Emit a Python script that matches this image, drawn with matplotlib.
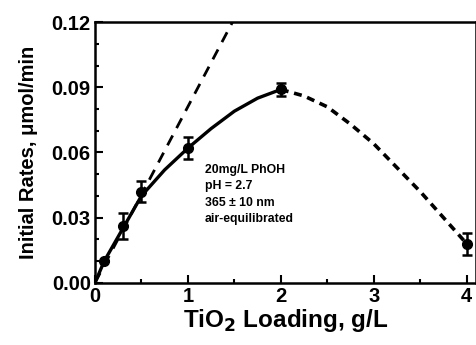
import matplotlib
matplotlib.use('Agg')
from matplotlib import pyplot as plt
from matplotlib.ticker import MultipleLocator, FormatStrFormatter

# measured points
loading = [0.1, 0.3, 0.5, 1.0, 2.0, 4.0]
rate = [0.010, 0.026, 0.042, 0.062, 0.089, 0.018]
rate_err = [0.0, 0.006, 0.005, 0.005, 0.003, 0.005]

# solid fitted curve
fit_x = [0.0, 0.1, 0.3, 0.5, 0.75, 1.0, 1.25, 1.5, 1.75, 2.0]
fit_y = [0.000, 0.010, 0.025, 0.040, 0.052, 0.062, 0.071, 0.079, 0.085, 0.089]

# dashed continuation past the maximum
tail_x = [2.0, 2.25, 2.5, 2.75, 3.0, 3.25, 3.5, 3.75, 4.0]
tail_y = [0.089, 0.086, 0.081, 0.073, 0.064, 0.053, 0.042, 0.030, 0.018]

# initial linear slope
lin_x = [0.0, 1.48]
lin_y = [0.0, 0.12]

conditions = ['20mg/L PhOH', 'pH = 2.7', '365 \u00b1 10 nm', 'air-equilibrated']

plt.rcParams['font.family'] = ['Liberation Sans', 'DejaVu Sans']
plt.rcParams['font.weight'] = 'bold'

fig = plt.figure(figsize=(4.77, 3.45), dpi=100)
ax = fig.add_axes([0.199, 0.180, 0.799, 0.756])

ax.plot(lin_x, lin_y, color='black', lw=2.0, ls=(0, (4, 3)))
ax.plot(fit_x, fit_y, color='black', lw=2.4)
ax.plot(tail_x, tail_y, color='black', lw=2.6, ls=(0, (2.2, 1.6)))
ax.errorbar(loading, rate, yerr=rate_err, fmt='o', color='black', ms=7,
            elinewidth=1.8, capsize=3.5, capthick=1.8)

ax.text(1.18, 0.0545, '\n'.join(conditions), fontsize=8.8, fontweight='bold',
        va='top', ha='left', linespacing=1.45)

ax.set_xlim(0, 4.1)
ax.set_ylim(0, 0.12)
ax.xaxis.set_major_locator(MultipleLocator(1))
ax.xaxis.set_minor_locator(MultipleLocator(0.5))
ax.yaxis.set_major_locator(MultipleLocator(0.03))
ax.yaxis.set_minor_locator(MultipleLocator(0.01))
ax.yaxis.set_major_formatter(FormatStrFormatter('%.2f'))
ax.tick_params(which='both', direction='in', width=1.5, top=False, right=False)
ax.tick_params(which='major', length=6, labelsize=14.5, pad=3)
ax.tick_params(which='minor', length=3)
for s in ax.spines.values():
    s.set_linewidth(1.8)

ax.set_xlabel('TiO$_\\mathbf{2}$ Loading, g/L', fontsize=17.5, fontweight='bold', labelpad=1)
ax.set_ylabel('Initial Rates, \u03bcmol/min', fontsize=14.5, fontweight='bold', labelpad=10)

fig.savefig('out.png', dpi=100)
